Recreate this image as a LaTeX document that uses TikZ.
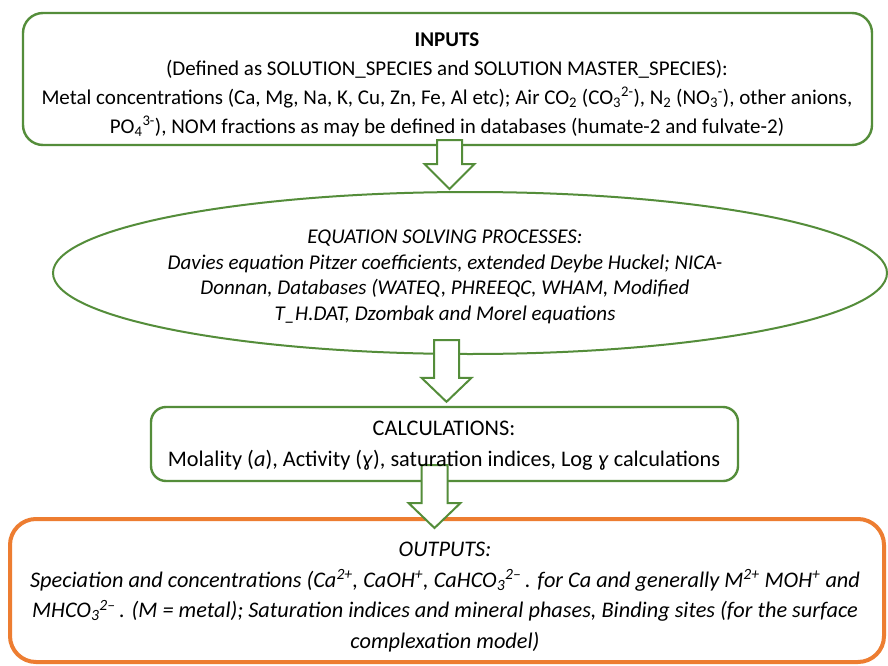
\documentclass[tikz,border=0pt]{standalone}
\usepackage{fontspec}
\setmainfont{Carlito}
\usetikzlibrary{shapes.geometric,calc}
\definecolor{grn}{RGB}{84,141,58}
\definecolor{org}{RGB}{237,125,49}
\begin{document}
\begin{tikzpicture}[x=1pt,y=-1pt,
  gbox/.style={draw=grn,line width=2.4pt,rounded corners=20pt,inner sep=0pt},
  obox/.style={draw=org,line width=4pt,rounded corners=26pt,inner sep=0pt},
  blk/.style={fill=white,draw=grn,line width=2pt,line join=miter},
  txt/.style={align=center,inner sep=0pt,font=\fontsize{21}{29}\selectfont},
]
\fill[white] (0,0) rectangle (888,666);
\useasboundingbox (0,0) rectangle (888,666);

\node[gbox,minimum width=849pt,minimum height=132pt] (in) at (447.5,79) {};
\node[draw=grn,line width=2pt,ellipse,minimum width=834pt,minimum height=162pt,inner sep=0pt] (ell) at (470,273) {};
\node[gbox,rounded corners=15pt,minimum width=587pt,minimum height=74pt] (calc) at (444.5,444) {};
\node[obox,minimum width=874pt,minimum height=143pt] (out) at (447,590.5) {};

% block arrows
\filldraw[blk] let \p1=($(in.south)+(2,-6)$), \p2=($(ell.north)+(0,-2)$) in
  (\x1-12.5pt,\y1) -- (\x1+12.5pt,\y1) -- (\x1+12.5pt,\y2+25pt) -- (\x1+25pt,\y2+25pt)
  -- (\x1,\y2) -- (\x1-25pt,\y2+25pt) -- (\x1-12.5pt,\y2+25pt) -- cycle;
\filldraw[blk] let \p1=($(ell.south)+(-23.5,-15)$), \p2=($(calc.north)+(0,-4)$) in
  (\x1-12.5pt,\y1) -- (\x1+12.5pt,\y1) -- (\x1+12.5pt,\y2+24pt) -- (\x1+25pt,\y2+24pt)
  -- (\x1,\y2) -- (\x1-25pt,\y2+24pt) -- (\x1-12.5pt,\y2+24pt) -- cycle;
\filldraw[blk] let \p1=($(calc.south)+(-10,-17)$), \p2=($(out.north)+(0,11)$) in
  (\x1-13pt,\y1) -- (\x1+13pt,\y1) -- (\x1+13pt,\y2+25pt) -- (\x1+26pt,\y2+25pt)
  -- (\x1,\y2) -- (\x1-26pt,\y2+25pt) -- (\x1-13pt,\y2+25pt) -- cycle;

% texts
\node[txt] (inT) at (447,84.5) {\textbf{INPUTS}\\
(Defined as SOLUTION\_SPECIES and SOLUTION MASTER\_SPECIES):\\
Metal concentrations (Ca, Mg, Na, K, Cu, Zn, Fe, Al etc); Air CO\textsubscript{2} (CO\textsubscript{3}\textsuperscript{2-}), N\textsubscript{2} (NO\textsubscript{3}\textsuperscript{-}), other anions,\\
PO\textsubscript{4}\textsuperscript{3-}), NOM fractions as may be defined in databases (humate-2 and fulvate-2)};

\node[txt,font=\fontsize{21}{25.5}\selectfont\itshape] (ellT) at (445,277) {EQUATION SOLVING PROCESSES:\\
Davies equation Pitzer coefficients, extended Deybe Huckel; NICA-\\
Donnan, Databases (WATEQ, PHREEQC, WHAM, Modified\\
T\_H.DAT, Dzombak and Morel equations};

\node[txt,font=\fontsize{22.3}{31}\selectfont] (calcT) at (444,445.5) {CALCULATIONS:\\
Molality (\textit{a}), Activity (\textit{ɣ}), saturation indices, Log \textit{ɣ} calculations};

\node[txt,font=\fontsize{22.3}{30.7}\selectfont\itshape] (outT) at (445,597) {OUTPUTS:\\
Speciation and concentrations (Ca\textsuperscript{2+}, CaOH\textsuperscript{+}, CaHCO\textsubscript{3}\textsuperscript{2–}\,. for Ca and generally M\textsuperscript{2+} MOH\textsuperscript{+} and\\
MHCO\textsubscript{3}\textsuperscript{2–}\,. (M = metal); Saturation indices and mineral phases, Binding sites (for the surface\\
complexation model)};
\end{tikzpicture}
\end{document}
